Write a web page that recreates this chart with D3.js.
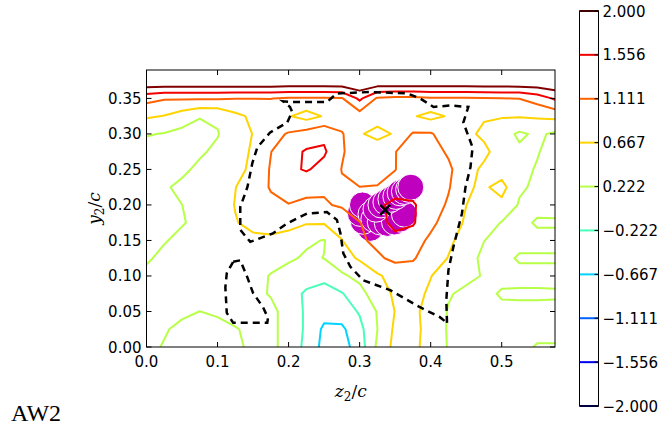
<!DOCTYPE html>
<html>
<head>
<meta charset="utf-8">
<script src="https://cdn.jsdelivr.net/npm/d3@7"></script>
<style>
  body { margin: 0; background: #fff; }
  text { font-family: "DejaVu Sans", sans-serif; }
</style>
</head>
<body>
<script>
const width = 660;
const height = 429;
const plot = { left: 146.5, right: 555, top: 70, bottom: 347 };
const cbar = { left: 579.5, right: 598.5, top: 11, bottom: 406 };

// contour levels and colorbar labels
const levels = [-2.0, -1.556, -1.111, -0.667, -0.222, 0.222, 0.667, 1.111, 1.556, 2.0];
const levelLabels = ["\u22122.000", "\u22121.556", "\u22121.111", "\u22120.667", "\u22120.222",
                     "0.222", "0.667", "1.111", "1.556", "2.000"];

const xTicks = [0.0, 0.1, 0.2, 0.3, 0.4, 0.5];
const xTickLabels = ["0.0", "0.1", "0.2", "0.3", "0.4", "0.5"];
const yTicks = [0.0, 0.05, 0.10, 0.15, 0.20, 0.25, 0.30, 0.35];
const yTickLabels = ["0.00", "0.05", "0.10", "0.15", "0.20", "0.25", "0.30", "0.35"];

// measurement grid (z2/c across, y2/c up)
const zGrid = [0.000, 0.025, 0.050, 0.075, 0.100, 0.125, 0.150, 0.175, 0.200, 0.225, 0.250, 0.275,
               0.300, 0.325, 0.350, 0.375, 0.400, 0.425, 0.450, 0.475, 0.500, 0.525, 0.550, 0.575];
const yGrid = [0.000, 0.025, 0.050, 0.075, 0.100, 0.125, 0.150, 0.175, 0.200,
               0.225, 0.250, 0.275, 0.300, 0.325, 0.350, 0.375, 0.390];

// field values, one row per yGrid entry (bottom to top)
const field = [
  [0.30, 0.20, 0.10, 0.05, 0.05, 0.15, 0.30, 0.30, 0.10, -0.35, -0.80, -0.85, -0.45, 0.30, 0.80, 0.80, 0.45, 0.20, 0.12, 0.12, 0.12, 0.12, 0.25, 0.25],
  [0.30, 0.25, 0.15, 0.10, 0.12, 0.20, 0.30, 0.30, 0.10, -0.30, -0.75, -0.75, -0.35, 0.22, 0.75, 0.80, 0.50, 0.18, 0.12, 0.12, 0.12, 0.12, 0.12, 0.12],
  [0.35, 0.32, 0.28, 0.22, 0.27, 0.35, 0.35, 0.30, 0.10, -0.30, -0.50, -0.45, -0.18, 0.25, 0.68, 0.80, 0.45, 0.20, 0.15, 0.12, 0.12, 0.12, 0.12, 0.12],
  [0.30, 0.35, 0.35, 0.35, 0.35, 0.35, 0.30, 0.20, 0.00, -0.30, -0.40, -0.25, 0.05, 0.50, 0.72, 0.80, 0.60, 0.25, 0.15, 0.10, 0.27, 0.28, 0.28, 0.27],
  [0.30, 0.35, 0.35, 0.35, 0.35, 0.35, 0.35, 0.20, 0.00, 0.00, -0.10, 0.15, 0.35, 0.60, 0.85, 0.90, 0.68, 0.45, 0.30, 0.20, 0.10, 0.10, 0.10, 0.10],
  [0.18, 0.30, 0.35, 0.40, 0.40, 0.40, 0.40, 0.35, 0.30, 0.15, 0.23, 0.50, 0.72, 1.05, 1.20, 1.15, 0.90, 0.65, 0.40, 0.12, 0.10, 0.27, 0.27, 0.27],
  [0.10, 0.20, 0.30, 0.40, 0.45, 0.50, 0.60, 0.60, 0.50, 0.30, 0.20, 0.65, 1.05, 1.20, 1.35, 1.35, 1.00, 0.75, 0.50, 0.23, 0.10, 0.10, 0.10, 0.10],
  [0.10, 0.15, 0.20, 0.30, 0.45, 0.65, 0.75, 0.80, 0.80, 0.70, 0.70, 0.90, 1.10, 1.30, 1.75, 1.60, 1.25, 0.85, 0.62, 0.45, 0.20, 0.10, 0.27, 0.27],
  [0.10, 0.18, 0.22, 0.35, 0.50, 0.68, 0.85, 1.00, 1.10, 1.05, 1.08, 1.15, 1.30, 1.45, 1.70, 1.60, 1.35, 1.05, 0.67, 0.55, 0.55, 0.18, 0.10, 0.08],
  [0.10, 0.18, 0.30, 0.40, 0.50, 0.66, 0.85, 1.15, 1.25, 1.20, 1.15, 1.15, 1.12, 1.15, 1.30, 1.40, 1.30, 1.15, 0.72, 0.60, 0.82, 0.28, 0.15, 0.10],
  [0.08, 0.05, 0.15, 0.30, 0.40, 0.55, 0.75, 1.15, 1.45, 1.60, 1.40, 1.10, 0.80, 0.80, 1.10, 1.35, 1.30, 1.20, 0.80, 0.60, 0.45, 0.30, 0.20, 0.10],
  [0.05, 0.00, 0.05, 0.17, 0.30, 0.50, 0.72, 1.10, 1.40, 1.60, 1.62, 1.15, 0.90, 1.00, 1.10, 1.30, 1.30, 1.05, 0.85, 0.75, 0.50, 0.30, 0.24, 0.12],
  [0.25, 0.20, 0.10, 0.05, 0.20, 0.45, 0.68, 0.95, 1.15, 1.30, 1.45, 1.15, 0.72, 0.50, 0.72, 1.15, 1.15, 0.90, 0.75, 0.60, 0.40, 0.15, 0.30, 0.15],
  [0.72, 0.65, 0.45, 0.25, 0.28, 0.56, 0.75, 0.85, 0.70, 0.50, 0.70, 0.85, 0.90, 0.90, 0.85, 0.70, 0.55, 0.70, 0.75, 0.70, 0.70, 0.70, 0.72, 0.78],
  [1.26, 1.15, 1.15, 1.15, 1.15, 1.12, 1.12, 1.12, 1.05, 1.05, 1.05, 1.08, 1.65, 1.05, 1.00, 1.00, 1.05, 1.05, 1.05, 1.08, 1.10, 1.12, 1.30, 1.62],
  [2.45, 2.45, 2.45, 2.45, 2.45, 2.45, 2.45, 2.45, 2.45, 2.45, 2.45, 2.45, 2.45, 2.45, 2.45, 2.45, 2.45, 2.45, 2.45, 2.45, 2.45, 2.45, 2.45, 2.45],
  [3.00, 3.00, 3.00, 3.00, 3.00, 3.00, 3.00, 3.00, 3.00, 3.00, 3.00, 3.00, 3.00, 3.00, 3.00, 3.00, 3.00, 3.00, 3.00, 3.00, 3.00, 3.00, 3.00, 3.00]
];

// dashed boundary curves [z, y]
const boundary = [
  [0.423, 0.034], [0.422, 0.066], [0.425, 0.108], [0.432, 0.141], [0.444, 0.188], [0.449, 0.225],
  [0.456, 0.253], [0.459, 0.281], [0.446, 0.316], [0.453, 0.338], [0.427, 0.340], [0.404, 0.338],
  [0.385, 0.350], [0.367, 0.357], [0.315, 0.359], [0.268, 0.357], [0.254, 0.345], [0.205, 0.345],
  [0.192, 0.346], [0.202, 0.338], [0.205, 0.331], [0.198, 0.316], [0.174, 0.302], [0.156, 0.281],
  [0.149, 0.259], [0.142, 0.225], [0.132, 0.197], [0.132, 0.165], [0.146, 0.148], [0.178, 0.160],
  [0.198, 0.174], [0.226, 0.188], [0.254, 0.190], [0.268, 0.179], [0.273, 0.160], [0.277, 0.132],
  [0.287, 0.113], [0.305, 0.094], [0.343, 0.080], [0.385, 0.056], [0.413, 0.042], [0.423, 0.034]
];
const boundary2 = [
  [0.122, 0.120], [0.132, 0.122], [0.142, 0.098], [0.150, 0.076], [0.164, 0.056], [0.171, 0.041],
  [0.170, 0.034], [0.122, 0.034], [0.113, 0.048], [0.111, 0.084], [0.113, 0.104], [0.122, 0.120]
];

// vortex centre positions (in drawing order) and mean centre
const vortexZ = [0.315, 0.305, 0.301, 0.304, 0.316, 0.320, 0.329, 0.339, 0.349, 0.357, 0.363,
                 0.323, 0.330, 0.337, 0.344, 0.351, 0.357, 0.363, 0.369, 0.372];
const vortexY = [0.167, 0.177, 0.188, 0.200, 0.187, 0.180, 0.176, 0.174, 0.176, 0.180, 0.187,
                 0.194, 0.200, 0.204, 0.208, 0.212, 0.217, 0.219, 0.222, 0.225];
const meanCentre = [0.336, 0.193];

// jet colormap
function jet(t) {
  const c = v => Math.round(255 * Math.max(0, Math.min(1, v)));
  return `rgb(${c(1.5 - Math.abs(4 * t - 3))},${c(1.5 - Math.abs(4 * t - 2))},${c(1.5 - Math.abs(4 * t - 1))})`;
}
const colour = v => jet((v - levels[0]) / (levels[levels.length - 1] - levels[0]));

const svg = d3.select("body").append("svg")
    .attr("width", width)
    .attr("height", height);

const x = d3.scaleLinear().domain([0, 0.575]).range([plot.left, plot.right]);
const y = d3.scaleLinear().domain([0, 0.39]).range([plot.bottom, plot.top]);

svg.append("defs").append("clipPath").attr("id", "clip")
  .append("rect")
    .attr("x", plot.left).attr("y", plot.top)
    .attr("width", plot.right - plot.left).attr("height", plot.bottom - plot.top);

const g = svg.append("g").attr("clip-path", "url(#clip)");

// vortex positions
g.selectAll("circle.vortex")
  .data(vortexZ.map((z, i) => [z, vortexY[i]]))
  .join("circle")
    .attr("class", "vortex")
    .attr("cx", d => x(d[0]))
    .attr("cy", d => y(d[1]))
    .attr("r", 13)
    .attr("fill", "#bf00bf")
    .attr("stroke", "#fff")
    .attr("stroke-width", 1);

// pad the grid by one copied row/column each side so edge closures fall outside the clip
const zs = [zGrid[0] - 0.025, ...zGrid, zGrid[zGrid.length - 1] + 0.025];
const ys = [yGrid[0] - 0.025, ...yGrid, yGrid[yGrid.length - 1] + 0.025];
const nx = zs.length, ny = ys.length;
const values = [];
for (let j = 0; j < ny; j++) {
  const row = field[Math.max(0, Math.min(field.length - 1, j - 1))];
  for (let i = 0; i < nx; i++) values.push(row[Math.max(0, Math.min(row.length - 1, i - 1))]);
}
function at(arr, f) {
  const n = arr.length - 1;
  if (f <= 0) return arr[0] + f * (arr[1] - arr[0]);
  if (f >= n) return arr[n] + (f - n) * (arr[n] - arr[n - 1]);
  const i = Math.floor(f);
  return arr[i] + (f - i) * (arr[i + 1] - arr[i]);
}
const proj = d3.geoTransform({
  point(px, py) { this.stream.point(x(at(zs, px - 0.5)), y(at(ys, py - 0.5))); }
});
const contourPath = d3.geoPath(proj);
const contours = d3.contours().size([nx, ny]).thresholds(levels)(values);

g.selectAll("path.level")
  .data(contours)
  .join("path")
    .attr("class", "level")
    .attr("d", contourPath)
    .attr("fill", "none")
    .attr("stroke", d => colour(d.value))
    .attr("stroke-width", 2)
    .attr("stroke-linejoin", "round");

// dashed boundaries
const line = d3.line().x(d => x(d[0])).y(d => y(d[1]));
[boundary, boundary2].forEach(b => {
  g.append("path")
    .attr("d", line(b))
    .attr("fill", "none")
    .attr("stroke", "#000")
    .attr("stroke-width", 2.5)
    .attr("stroke-dasharray", "7,5");
});

// mean centre cross
const cx = x(meanCentre[0]), cy = y(meanCentre[1]);
g.append("path")
  .attr("d", `M${cx - 5},${cy - 5}L${cx + 5},${cy + 5}M${cx - 5},${cy + 5}L${cx + 5},${cy - 5}`)
  .attr("stroke", "#000")
  .attr("stroke-width", 2.5);

// frame and ticks (inside, all four sides)
svg.append("rect")
  .attr("x", plot.left).attr("y", plot.top)
  .attr("width", plot.right - plot.left).attr("height", plot.bottom - plot.top)
  .attr("fill", "none").attr("stroke", "#000").attr("stroke-width", 1);

const ticks = svg.append("g").attr("stroke", "#000").attr("stroke-width", 1);
xTicks.forEach(t => {
  ticks.append("line").attr("x1", x(t)).attr("x2", x(t)).attr("y1", plot.bottom).attr("y2", plot.bottom - 5);
  ticks.append("line").attr("x1", x(t)).attr("x2", x(t)).attr("y1", plot.top).attr("y2", plot.top + 5);
});
yTicks.forEach(t => {
  ticks.append("line").attr("y1", y(t)).attr("y2", y(t)).attr("x1", plot.left).attr("x2", plot.left + 5);
  ticks.append("line").attr("y1", y(t)).attr("y2", y(t)).attr("x1", plot.right).attr("x2", plot.right - 5);
});

svg.selectAll("text.xt")
  .data(xTicks)
  .join("text")
    .attr("x", d => x(d))
    .attr("y", plot.bottom + 20)
    .attr("text-anchor", "middle")
    .attr("font-size", 15)
    .text((d, i) => xTickLabels[i]);

svg.selectAll("text.yt")
  .data(yTicks)
  .join("text")
    .attr("x", plot.left - 5)
    .attr("y", d => y(d) + 5.5)
    .attr("text-anchor", "end")
    .attr("font-size", 15)
    .text((d, i) => yTickLabels[i]);

// axis labels
function mathLabel(sel, base) {
  sel.append("tspan").attr("font-style", "italic").text(base);
  sel.append("tspan").attr("font-size", 12).attr("dy", 4).text("2");
  sel.append("tspan").attr("dy", -4).text("/");
  sel.append("tspan").attr("font-style", "italic").text("c");
}
const xl = svg.append("text")
  .attr("x", (plot.left + plot.right) / 2)
  .attr("y", 397)
  .attr("text-anchor", "middle")
  .style("font-family", "'DejaVu Serif', serif")
  .attr("font-size", 17);
mathLabel(xl, "z");

const yl = svg.append("text")
  .attr("transform", `translate(100, ${(plot.top + plot.bottom) / 2}) rotate(-90)`)
  .attr("text-anchor", "middle")
  .style("font-family", "'DejaVu Serif', serif")
  .attr("font-size", 17);
mathLabel(yl, "y");

svg.append("text")
  .attr("x", 11)
  .attr("y", 421)
  .style("font-family", "'Liberation Serif', serif")
  .attr("font-size", 24)
  .text("AW2");

// colorbar
const cy0 = d3.scaleLinear().domain([levels[0], levels[levels.length - 1]]).range([cbar.bottom, cbar.top]);
svg.append("rect")
  .attr("x", cbar.left).attr("y", cbar.top)
  .attr("width", cbar.right - cbar.left).attr("height", cbar.bottom - cbar.top)
  .attr("fill", "#fff");
svg.selectAll("line.cb")
  .data(levels)
  .join("line")
    .attr("class", "cb")
    .attr("x1", cbar.left).attr("x2", cbar.right)
    .attr("y1", d => cy0(d)).attr("y2", d => cy0(d))
    .attr("stroke", d => colour(d))
    .attr("stroke-width", 2);
svg.selectAll("line.cbt")
  .data(levels)
  .join("line")
    .attr("class", "cbt")
    .attr("x1", cbar.right - 4).attr("x2", cbar.right)
    .attr("y1", d => cy0(d)).attr("y2", d => cy0(d))
    .attr("stroke", "#000")
    .attr("stroke-width", 1);
svg.append("rect")
  .attr("x", cbar.left).attr("y", cbar.top)
  .attr("width", cbar.right - cbar.left).attr("height", cbar.bottom - cbar.top)
  .attr("fill", "none").attr("stroke", "#000").attr("stroke-width", 1);
svg.selectAll("text.cbl")
  .data(levels)
  .join("text")
    .attr("x", cbar.right + 4)
    .attr("y", d => cy0(d) + 5.5)
    .attr("font-size", 15)
    .text((d, i) => levelLabels[i]);
</script>
</body>
</html>
